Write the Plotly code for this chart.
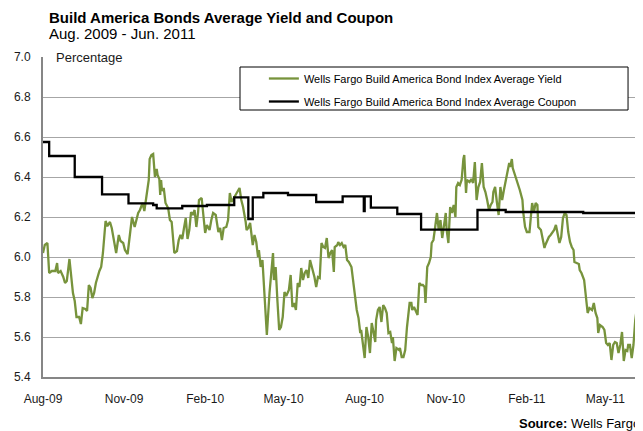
import plotly.graph_objects as go

# ---------------- data ----------------
yield_dates = [
    "2009-08-01", "2009-08-03", "2009-08-06", "2009-08-08", "2009-08-11", "2009-08-15", "2009-08-17", "2009-08-18",
    "2009-08-21", "2009-08-24", "2009-08-26", "2009-08-28", "2009-08-31", "2009-09-02", "2009-09-04", "2009-09-06",
    "2009-09-08", "2009-09-11", "2009-09-13", "2009-09-15", "2009-09-18", "2009-09-20", "2009-09-22", "2009-09-24",
    "2009-09-26", "2009-09-28", "2009-09-30", "2009-10-04", "2009-10-06", "2009-10-08", "2009-10-11", "2009-10-13",
    "2009-10-16", "2009-10-18", "2009-10-20", "2009-10-23", "2009-10-26", "2009-10-28", "2009-10-31", "2009-11-02",
    "2009-11-05", "2009-11-08", "2009-11-10", "2009-11-13", "2009-11-15", "2009-11-17", "2009-11-19", "2009-11-22",
    "2009-11-24", "2009-11-26", "2009-11-29", "2009-11-30", "2009-12-02", "2009-12-04", "2009-12-06", "2009-12-08",
    "2009-12-09", "2009-12-11", "2009-12-12", "2009-12-13", "2009-12-14", "2009-12-16", "2009-12-18", "2009-12-21",
    "2009-12-23", "2009-12-25", "2009-12-28", "2009-12-31", "2010-01-02", "2010-01-04", "2010-01-06", "2010-01-08",
    "2010-01-10", "2010-01-12", "2010-01-14", "2010-01-16", "2010-01-18", "2010-01-20", "2010-01-22", "2010-01-24",
    "2010-01-25", "2010-01-28", "2010-01-30", "2010-02-01", "2010-02-03", "2010-02-06", "2010-02-08", "2010-02-10",
    "2010-02-13", "2010-02-14", "2010-02-16", "2010-02-18", "2010-02-20", "2010-02-22", "2010-02-25", "2010-02-27",
    "2010-03-01", "2010-03-03", "2010-03-06", "2010-03-09", "2010-03-12", "2010-03-14", "2010-03-16", "2010-03-19",
    "2010-03-20", "2010-03-22", "2010-03-24", "2010-03-27", "2010-03-29", "2010-03-31", "2010-04-02", "2010-04-03",
    "2010-04-05", "2010-04-07", "2010-04-09", "2010-04-11", "2010-04-12", "2010-04-15", "2010-04-17", "2010-04-19",
    "2010-04-20", "2010-04-22", "2010-04-24", "2010-04-26", "2010-04-28", "2010-04-30", "2010-05-02", "2010-05-04",
    "2010-05-07", "2010-05-09", "2010-05-11", "2010-05-13", "2010-05-15", "2010-05-17", "2010-05-19", "2010-05-21",
    "2010-05-23", "2010-05-25", "2010-05-27", "2010-05-29", "2010-05-31", "2010-06-03", "2010-06-05", "2010-06-07",
    "2010-06-09", "2010-06-11", "2010-06-13", "2010-06-15", "2010-06-17", "2010-06-19", "2010-06-21", "2010-06-23",
    "2010-06-25", "2010-06-27", "2010-06-28", "2010-07-01", "2010-07-02", "2010-07-04", "2010-07-06", "2010-07-08",
    "2010-07-10", "2010-07-12", "2010-07-14", "2010-07-17", "2010-07-19", "2010-07-21", "2010-07-23", "2010-07-25",
    "2010-07-27", "2010-07-28", "2010-07-30", "2010-08-01", "2010-08-03", "2010-08-05", "2010-08-07", "2010-08-09",
    "2010-08-11", "2010-08-13", "2010-08-14", "2010-08-16", "2010-08-18", "2010-08-20", "2010-08-22", "2010-08-24",
    "2010-08-26", "2010-08-28", "2010-08-30", "2010-09-01", "2010-09-02", "2010-09-04", "2010-09-06", "2010-09-09",
    "2010-09-10", "2010-09-12", "2010-09-14", "2010-09-16", "2010-09-18", "2010-09-20", "2010-09-21", "2010-09-23",
    "2010-09-24", "2010-09-26", "2010-09-28", "2010-09-30", "2010-10-02", "2010-10-04", "2010-10-06", "2010-10-08",
    "2010-10-09", "2010-10-11", "2010-10-13", "2010-10-15", "2010-10-16", "2010-10-18", "2010-10-20", "2010-10-22",
    "2010-10-24", "2010-10-26", "2010-10-28", "2010-10-30", "2010-11-01", "2010-11-02", "2010-11-04", "2010-11-06",
    "2010-11-08", "2010-11-10", "2010-11-12", "2010-11-13", "2010-11-15", "2010-11-17", "2010-11-19", "2010-11-21",
    "2010-11-22", "2010-11-24", "2010-11-25", "2010-11-28", "2010-11-30", "2010-12-02", "2010-12-04", "2010-12-06",
    "2010-12-08", "2010-12-10", "2010-12-12", "2010-12-14", "2010-12-16", "2010-12-18", "2010-12-20", "2010-12-22",
    "2010-12-24", "2010-12-25", "2010-12-27", "2010-12-29", "2010-12-31", "2011-01-02", "2011-01-04", "2011-01-06",
    "2011-01-08", "2011-01-10", "2011-01-12", "2011-01-13", "2011-01-15", "2011-01-16", "2011-01-18", "2011-01-21",
    "2011-01-24", "2011-01-27", "2011-01-28", "2011-01-30", "2011-02-01", "2011-02-04", "2011-02-06", "2011-02-07",
    "2011-02-09", "2011-02-11", "2011-02-13", "2011-02-14", "2011-02-17", "2011-02-19", "2011-02-21", "2011-02-22",
    "2011-02-24", "2011-02-26", "2011-02-28", "2011-03-02", "2011-03-04", "2011-03-06", "2011-03-08", "2011-03-10",
    "2011-03-12", "2011-03-14", "2011-03-16", "2011-03-18", "2011-03-20", "2011-03-22", "2011-03-24", "2011-03-26",
    "2011-03-27", "2011-03-30", "2011-04-01", "2011-04-02", "2011-04-04", "2011-04-07", "2011-04-09", "2011-04-11",
    "2011-04-13", "2011-04-16", "2011-04-18", "2011-04-20", "2011-04-22", "2011-04-23", "2011-04-25", "2011-04-28",
    "2011-04-30", "2011-05-02", "2011-05-04", "2011-05-06", "2011-05-08", "2011-05-10", "2011-05-12", "2011-05-14",
    "2011-05-16", "2011-05-18", "2011-05-20", "2011-05-22", "2011-05-24", "2011-05-26", "2011-05-27", "2011-05-29",
    "2011-05-31", "2011-06-02", "2011-06-04", "2011-06-06",
]
yield_values = [
    6.02, 6.06, 6.07, 5.92, 5.93, 5.93, 5.97, 5.92,
    5.93, 5.90, 5.87, 5.88, 5.99, 5.90, 5.82, 5.78,
    5.70, 5.70, 5.665, 5.745, 5.74, 5.73, 5.86, 5.845,
    5.795, 5.82, 5.87, 5.93, 5.95, 6.02, 6.18, 6.155,
    6.175, 6.145, 6.09, 6.02, 6.11, 6.08, 6.07, 6.035,
    6.015, 6.11, 6.20, 6.15, 6.185, 6.22, 6.235, 6.27,
    6.23, 6.285, 6.385, 6.49, 6.51, 6.515, 6.40, 6.44,
    6.41, 6.39, 6.31, 6.385, 6.33, 6.345, 6.27, 6.245,
    6.185, 6.175, 6.02, 6.03, 6.085, 6.11, 6.09, 6.145,
    6.195, 6.09, 6.135, 6.225, 6.21, 6.235, 6.15, 6.225,
    6.285, 6.295, 6.195, 6.12, 6.16, 6.135, 6.185, 6.22,
    6.21, 6.175, 6.125, 6.145, 6.085, 6.145, 6.15, 6.185,
    6.32, 6.275, 6.30, 6.325, 6.345, 6.285, 6.25, 6.175,
    6.135, 6.145, 6.17, 6.06, 6.11, 6.075, 6.00, 6.035,
    5.95, 5.985, 5.85, 5.725, 5.61, 5.82, 5.92, 6.02,
    5.885, 5.95, 5.78, 5.635, 5.65, 5.70, 5.825, 5.805,
    5.835, 5.91, 5.75, 5.77, 5.735, 5.87, 5.85, 5.945,
    5.885, 5.92, 5.935, 5.895, 5.985, 5.935, 5.90, 5.85,
    5.90, 5.895, 6.07, 6.05, 6.045, 6.095, 5.995, 6.02,
    6.035, 5.925, 6.05, 6.06, 6.075, 6.06, 6.07, 6.05,
    6.06, 5.985, 5.975, 5.95, 5.87, 5.80, 5.735, 5.695,
    5.62, 5.635, 5.57, 5.495, 5.65, 5.60, 5.52, 5.67,
    5.625, 5.575, 5.685, 5.735, 5.75, 5.675, 5.76, 5.745,
    5.72, 5.62, 5.625, 5.57, 5.60, 5.48, 5.545, 5.535,
    5.545, 5.50, 5.50, 5.535, 5.65, 5.72, 5.77, 5.77,
    5.735, 5.75, 5.725, 5.71, 5.87, 5.86, 5.86, 5.85,
    5.77, 5.95, 5.97, 6.00, 6.07, 6.085, 6.15, 6.22,
    6.135, 6.185, 6.095, 6.15, 6.22, 6.135, 6.07, 6.25,
    6.22, 6.26, 6.20, 6.35, 6.37, 6.36, 6.385, 6.49,
    6.51, 6.32, 6.385, 6.375, 6.39, 6.37, 6.475, 6.285,
    6.35, 6.375, 6.47, 6.35, 6.325, 6.285, 6.235, 6.26,
    6.275, 6.325, 6.35, 6.275, 6.21, 6.35, 6.285, 6.335,
    6.375, 6.42, 6.47, 6.45, 6.49, 6.445, 6.42, 6.375,
    6.335, 6.285, 6.22, 6.15, 6.125, 6.125, 6.22, 6.27,
    6.225, 6.27, 6.26, 6.15, 6.135, 6.085, 6.045, 6.06,
    6.085, 6.10, 6.11, 6.12, 6.135, 6.16, 6.11, 6.07,
    6.10, 6.195, 6.22, 6.21, 6.125, 6.075, 6.05, 6.035,
    5.975, 5.97, 5.965, 5.935, 5.92, 5.885, 5.795, 5.72,
    5.745, 5.735, 5.77, 5.72, 5.695, 5.62, 5.66, 5.65,
    5.635, 5.57, 5.56, 5.57, 5.485, 5.56, 5.575, 5.57,
    5.52, 5.56, 5.625, 5.48, 5.535, 5.53, 5.56, 5.56,
    5.495, 5.56, 5.685, 5.75,
]

coupon_dates = [
    "2009-08-01", "2009-08-08", "2009-09-06", "2009-10-07", "2009-11-06", "2009-12-04", "2009-12-08",
    "2010-01-06", "2010-02-03", "2010-03-06", "2010-03-22", "2010-03-27", "2010-04-08", "2010-05-06",
    "2010-06-07", "2010-07-07", "2010-07-31", "2010-08-01", "2010-08-08", "2010-09-07", "2010-10-04",
    "2010-12-07", "2011-01-08", "2011-04-06", "2011-06-06",
]
coupon_values = [
    6.575, 6.505, 6.40, 6.313, 6.268, 6.26, 6.243,
    6.255, 6.26, 6.298, 6.19, 6.298, 6.32, 6.31,
    6.275, 6.303, 6.23, 6.303, 6.247, 6.215, 6.137,
    6.235, 6.225, 6.22, 6.22,
]

tick_dates = ["2009-08-01", "2009-11-01", "2010-02-01", "2010-05-01", "2010-08-01",
              "2010-11-01", "2011-02-01", "2011-05-01"]
tick_labels = ["Aug-09", "Nov-09", "Feb-10", "May-10", "Aug-10", "Nov-10", "Feb-11", "May-11"]

yield_name = "Wells Fargo Build America Bond Index Average Yield"
coupon_name = "Wells Fargo Build America Bond Index Average Coupon"

# ---------------- figure ----------------
FONT = "Liberation Sans, Arial, sans-serif"
OFF = 8                      # page body margin of the html page
W, H = 643 - OFF, 431 - OFF
L, T = 40 - OFF, 57 - OFF
R = W - (637 - OFF)
B = H - (377 - OFF)
PW, PH = W - L - R, H - T - B


def px_x(x):
    """page pixel x (as in the screenshot) -> paper coordinate"""
    return (x - OFF - L) / PW


def px_y(y):
    """page pixel y (as in the screenshot) -> paper coordinate"""
    return (H - B - (y - OFF)) / PH


fig = go.Figure()
fig.add_trace(go.Scatter(
    x=yield_dates, y=yield_values, mode="lines", name=yield_name,
    legendgroup="a", line=dict(color="#77933C", width=2.3),
))
fig.add_trace(go.Scatter(
    x=coupon_dates, y=coupon_values, mode="lines", name=coupon_name,
    legendgroup="b", line=dict(color="#000000", width=2.3, shape="hv"),
))

fig.update_layout(
    width=W, height=H,
    margin=dict(l=L, r=R, t=T, b=B, pad=0),
    paper_bgcolor="white", plot_bgcolor="white",
    font=dict(family=FONT, size=12, color="#1a1a1a"),
    showlegend=True,
    legend=dict(
        x=px_x(262), y=px_y(64), xanchor="left", yanchor="top",
        bgcolor="rgba(0,0,0,0)", borderwidth=0,
        font=dict(family=FONT, size=11, color="#000"),
        itemwidth=30, traceorder="grouped", tracegroupgap=4,
    ),
    xaxis=dict(
        type="date", range=["2009-08-01", "2011-06-06"],
        tickmode="array", tickvals=tick_dates, ticktext=tick_labels,
        showgrid=False, zeroline=False, ticks="",
        showline=True, linecolor="#868686", linewidth=2,
        tickfont=dict(family=FONT, size=12, color="#1a1a1a"),
        ticklabelstandoff=10,
    ),
    yaxis=dict(
        range=[5.4, 7.0], tick0=5.4, dtick=0.2, tickformat=".1f",
        showgrid=True, gridcolor="#A6A6A6", gridwidth=1,
        zeroline=False, ticks="",
        showline=True, linecolor="#868686", linewidth=2,
        tickfont=dict(family=FONT, size=12, color="#1a1a1a"),
        ticklabelstandoff=8,
    ),
    shapes=[dict(
        type="rect", xref="paper", yref="paper", layer="above",
        x0=px_x(238), x1=px_x(628), y0=px_y(110), y1=px_y(67),
        line=dict(color="#000", width=1), fillcolor="white",
    )],
    annotations=[
        dict(text="<b>Build America Bonds Average Yield and Coupon</b>",
             xref="paper", yref="paper", x=px_x(44), y=px_y(17),
             xanchor="left", yanchor="middle", showarrow=False,
             font=dict(family=FONT, size=15, color="#000")),
        dict(text="Aug. 2009 - Jun. 2011",
             xref="paper", yref="paper", x=px_x(44), y=px_y(33),
             xanchor="left", yanchor="middle", showarrow=False,
             font=dict(family=FONT, size=15, color="#000")),
        dict(text="Percentage",
             xref="paper", yref="paper", x=px_x(50), y=1.0,
             xanchor="left", yanchor="middle", showarrow=False,
             bgcolor="white", borderpad=2,
             font=dict(family=FONT, size=13, color="#1a1a1a")),
        dict(text="<b>Source:</b> Wells Fargo",
             xref="paper", yref="paper", x=px_x(642), y=px_y(423),
             xanchor="right", yanchor="middle", showarrow=False,
             font=dict(family=FONT, size=13, color="#000")),
    ],
)

fig.write_html("out.html")
